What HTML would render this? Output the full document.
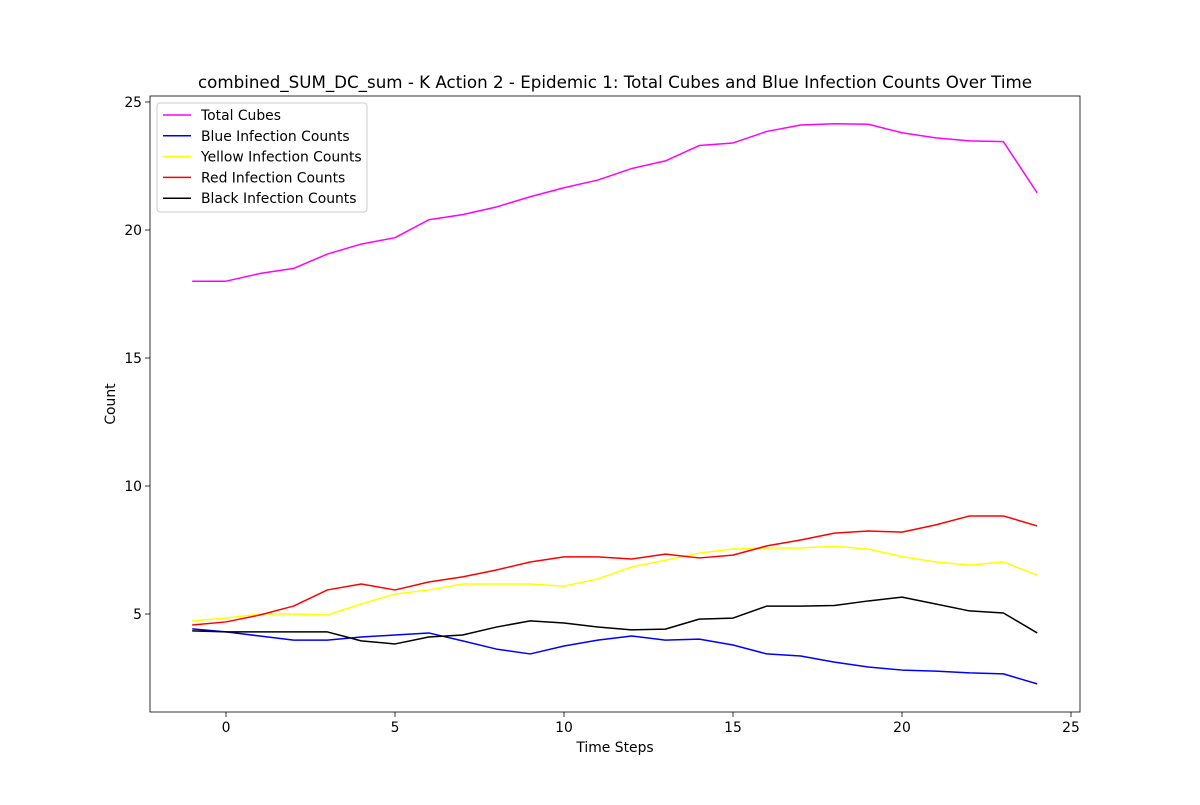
<!DOCTYPE html>
<html><head><meta charset="utf-8"><style>
body{margin:0;background:#fff;}
svg text{font-family:"DejaVu Sans","Liberation Sans",sans-serif;}
</style></head><body>
<svg id="chart" width="1200" height="800" xmlns="http://www.w3.org/2000/svg"></svg>
<script>
const steps = [-1,0,1,2,3,4,5,6,7,8,9,10,11,12,13,14,15,16,17,18,19,20,21,22,23,24];
const totalCubes = [18.0,18.0,18.3,18.5,19.06,19.45,19.7,20.4,20.6,20.9,21.3,21.65,21.95,22.4,22.7,23.3,23.4,23.85,24.1,24.15,24.13,23.8,23.6,23.48,23.45,21.45];
const blueCounts = [4.42,4.3,4.14,3.98,3.98,4.1,4.18,4.26,3.95,3.63,3.44,3.75,3.98,4.14,3.98,4.02,3.79,3.44,3.36,3.12,2.93,2.81,2.77,2.7,2.66,2.27];
const yellowCounts = [4.73,4.84,5.0,5.0,4.96,5.39,5.78,5.94,6.17,6.17,6.17,6.09,6.37,6.84,7.1,7.38,7.54,7.58,7.58,7.64,7.54,7.24,7.03,6.91,7.03,6.52];
const redCounts = [4.57,4.69,4.96,5.31,5.94,6.17,5.94,6.25,6.45,6.72,7.03,7.23,7.23,7.15,7.34,7.19,7.3,7.66,7.89,8.16,8.24,8.2,8.48,8.83,8.83,8.44];
const blackCounts = [4.34,4.3,4.3,4.3,4.3,3.95,3.83,4.1,4.18,4.49,4.73,4.65,4.49,4.38,4.41,4.8,4.84,5.31,5.31,5.33,5.51,5.66,5.39,5.12,5.04,4.26];
const xTicks = [0,5,10,15,20,25];
const yTicks = [5,10,15,20,25];
const seriesNames = ["Total Cubes","Blue Infection Counts","Yellow Infection Counts","Red Infection Counts","Black Infection Counts"];
const seriesColors = ["#ff00ff","#0000ff","#ffff00","#ff0000","#000000"];
const seriesData = [totalCubes,blueCounts,yellowCounts,redCounts,blackCounts];

const NS="http://www.w3.org/2000/svg";
const svg=document.getElementById('chart');
const L=150,R=1080,T=96,B=712;
function xs(v){return 226+(v-0)*(1071-226)/25;}
function ys(v){return 614-(v-5)*(614-102)/20;}
function mk(tag,attrs,parent){const e=document.createElementNS(NS,tag);for(const k in attrs)e.setAttribute(k,attrs[k]);(parent||svg).appendChild(e);return e;}

const title=mk('text',{x:615,y:88,'text-anchor':'middle','font-size':16.7});


title.textContent="combined_SUM_DC_sum - K Action 2 - Epidemic 1: Total Cubes and Blue Infection Counts Over Time";

xTicks.forEach(t=>{
  const g=mk('g',{});
  
  
  mk('line',{x1:xs(t),x2:xs(t),y1:B,y2:B+5,stroke:'#000','stroke-width':0.8},g);
  const tx=mk('text',{x:xs(t),y:B+20,'text-anchor':'middle','font-size':13.9},g);tx.textContent=t;
});
yTicks.forEach(t=>{
  const g=mk('g',{});
  
  
  mk('line',{x1:L-5,x2:L,y1:ys(t),y2:ys(t),stroke:'#000','stroke-width':0.8},g);
  const tx=mk('text',{x:L-8,y:ys(t)+5,'text-anchor':'end','font-size':13.9},g);tx.textContent=t;
});
const xl=mk('text',{x:615,y:752,'text-anchor':'middle','font-size':13.9});


xl.textContent="Time Steps";
const yl=mk('text',{x:115,y:404,'text-anchor':'middle','font-size':13.9,transform:'rotate(-90 115 404)'});


yl.textContent="Count";

seriesData.forEach((arr,i)=>{
  const p=mk('polyline',{points:arr.map((v,j)=>xs(steps[j])+','+ys(v)).join(' '),fill:'none',stroke:seriesColors[i],'stroke-width':1.5,'stroke-linejoin':'round'});
  
  
});

const frame=mk('rect',{x:L,y:T,width:R-L,height:B-T,fill:'none',stroke:'#000','stroke-width':0.8});



const lg=mk('g',{});


mk('rect',{x:157,y:103,width:210,height:109,rx:3,fill:'#fff',stroke:'#ccc','stroke-width':1},lg);
seriesNames.forEach((n,i)=>{
  const g=mk('g',{},lg);
  
  
  const y=115+i*20.8;
  mk('line',{x1:163,x2:191,y1:y,y2:y,stroke:seriesColors[i],'stroke-width':1.5},g);
  const t=mk('text',{x:201,y:y+5,'font-size':13.9},g);t.textContent=n;
});
</script>
</body></html>
